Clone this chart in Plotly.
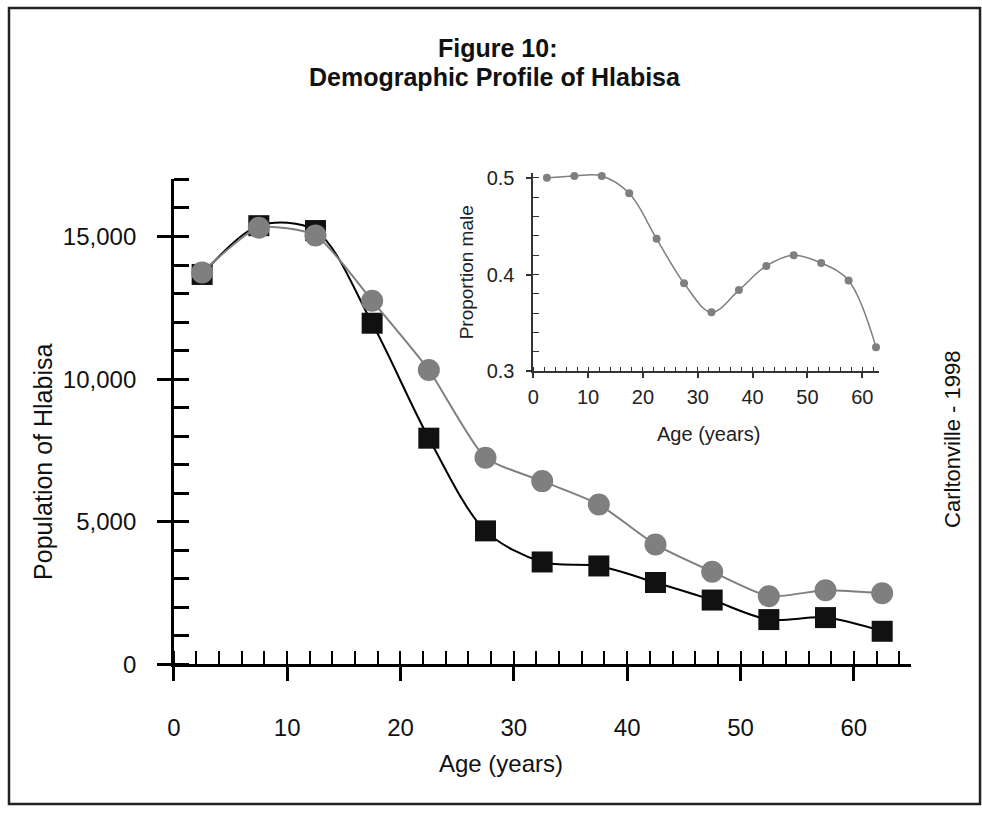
import plotly.graph_objects as go

# ---- data ----
age = [2.5, 7.5, 12.5, 17.5, 22.5, 27.5, 32.5, 37.5, 42.5, 47.5, 52.5, 57.5, 62.5]
males = [13670, 15380, 15210, 11960, 7930, 4680, 3590, 3450, 2870, 2255, 1570, 1640, 1160]
females = [13740, 15310, 15040, 12750, 10320, 7245, 6425, 5605, 4200, 3250, 2390, 2600, 2495]
prop_male = [0.500, 0.502, 0.502, 0.484, 0.437, 0.391, 0.361, 0.384, 0.409, 0.420, 0.412, 0.394, 0.325]

W, H = 982, 819
FONT = "Liberation Sans, Arial, sans-serif"
GRAY = "#7f7f7f"


def px(x):
    return x / W


def py(y):
    return 1 - y / H


fig = go.Figure()

fig.add_trace(go.Scatter(
    x=age, y=males, mode="lines+markers",
    line=dict(color="black", width=2, shape="spline", smoothing=0.9),
    marker=dict(symbol="square", size=21, color="#111111"),
    xaxis="x", yaxis="y", cliponaxis=False, showlegend=False,
))
fig.add_trace(go.Scatter(
    x=age, y=females, mode="lines+markers",
    line=dict(color=GRAY, width=2, shape="spline", smoothing=0.6),
    marker=dict(symbol="circle", size=22, color=GRAY),
    xaxis="x", yaxis="y", cliponaxis=False, showlegend=False,
))
fig.add_trace(go.Scatter(
    x=age, y=prop_male, mode="lines+markers",
    line=dict(color=GRAY, width=1.5, shape="spline", smoothing=1.0),
    marker=dict(symbol="circle", size=8, color=GRAY),
    xaxis="x2", yaxis="y2", cliponaxis=False, showlegend=False,
))

tickfont = dict(family=FONT, size=24, color="#111111")
inset_font = dict(family=FONT, size=20, color="#222222")

main_x = [0, 65]
main_y = [0, 17000]
ins_x = [0, 63]
ins_y = [0.3, 0.505]

common = dict(showgrid=False, zeroline=False, tickcolor="black")

fig.update_layout(
    width=W, height=H,
    margin=dict(l=0, r=0, t=0, b=0),
    paper_bgcolor="white", plot_bgcolor="rgba(0,0,0,0)",
    xaxis=dict(domain=[px(168), px(910)], range=main_x, anchor="y",
               showline=True, linecolor="black", linewidth=2.5,
               ticks="outside", ticklen=14, tickwidth=2.5, dtick=10, tick0=0,
               minor=dict(ticks="inside", ticklen=14, tickwidth=2, dtick=2, tick0=0, tickcolor="black"),
               tickfont=tickfont, ticklabelstandoff=26, **common),
    xaxis3=dict(overlaying="x", range=main_x, anchor="y", showline=False,
                ticks="inside", ticklen=14, tickwidth=2.5, dtick=10, tick0=0,
                showticklabels=False, **common),
    yaxis=dict(domain=[py(674), py(177.6)], range=main_y, anchor="x",
               showline=True, linecolor="black", linewidth=2.5,
               ticks="outside", ticklen=14, tickwidth=2.5, dtick=5000, tick0=0,
               minor=dict(ticks="inside", ticklen=15, tickwidth=2.5, dtick=1000, tick0=0, tickcolor="black"),
               tickformat=",", tickfont=tickfont, ticklabelstandoff=16, **common),
    yaxis3=dict(overlaying="y", range=main_y, anchor="x", showline=False,
                ticks="inside", ticklen=15, tickwidth=2.5, dtick=5000, tick0=0,
                showticklabels=False, **common),
    xaxis2=dict(domain=[px(530), px(878)], range=ins_x, anchor="y2",
                showline=True, linecolor="#333333", linewidth=1.5,
                ticks="outside", ticklen=5, tickwidth=1.5, dtick=10, tick0=0,
                minor=dict(ticks="inside", ticklen=5, tickwidth=1.2, dtick=2, tick0=0, tickcolor="#333333"),
                tickfont=inset_font, ticklabelstandoff=2, tickcolor="#333333",
                showgrid=False, zeroline=False),
    xaxis4=dict(overlaying="x2", range=ins_x, anchor="y2", showline=False,
                ticks="inside", ticklen=5, tickwidth=1.5, dtick=10, tick0=0,
                showticklabels=False, tickcolor="#333333", showgrid=False, zeroline=False),
    yaxis2=dict(domain=[py(374), py(171)], range=ins_y, anchor="x2",
                showline=True, linecolor="#333333", linewidth=1.5,
                ticks="outside", ticklen=5, tickwidth=1.5, dtick=0.1, tick0=0.3,
                minor=dict(ticks="inside", ticklen=6, tickwidth=1.2, dtick=0.02, tick0=0.3, tickcolor="#333333"),
                tickformat=".1f", tickfont=inset_font, ticklabelstandoff=8, tickcolor="#333333",
                showgrid=False, zeroline=False),
    yaxis4=dict(overlaying="y2", range=ins_y, anchor="x2", showline=False,
                ticks="inside", ticklen=5, tickwidth=1.5, dtick=0.1, tick0=0.3,
                showticklabels=False, tickcolor="#333333", showgrid=False, zeroline=False),
    shapes=[dict(type="rect", xref="paper", yref="paper",
                 x0=px(2), x1=px(980), y0=py(817), y1=py(2),
                 line=dict(color="#222222", width=2.5), fillcolor="rgba(0,0,0,0)")],
    annotations=[
        dict(text="<b>Figure 10:</b>", x=px(494), y=py(43), xref="paper", yref="paper",
             showarrow=False, font=dict(family=FONT, size=25, color="#111111"),
             xanchor="center", yanchor="middle"),
        dict(text="<b>Demographic Profile of Hlabisa</b>", x=px(492), y=py(73), xref="paper", yref="paper",
             showarrow=False, font=dict(family=FONT, size=25, color="#111111"),
             xanchor="center", yanchor="middle"),
        dict(text="Population of Hlabisa", x=px(36), y=py(467), xref="paper", yref="paper",
             showarrow=False, textangle=-90, font=dict(family=FONT, size=25, color="#111111"),
             xanchor="center", yanchor="middle"),
        dict(text="Age (years)", x=px(498), y=py(776), xref="paper", yref="paper",
             showarrow=False, font=dict(family=FONT, size=24, color="#111111"),
             xanchor="center", yanchor="middle"),
        dict(text="Carltonville - 1998", x=px(952), y=py(444), xref="paper", yref="paper",
             showarrow=False, textangle=-90, font=dict(family=FONT, size=22, color="#111111"),
             xanchor="center", yanchor="middle"),
        dict(text="Age (years)", x=px(707), y=py(438), xref="paper", yref="paper",
             showarrow=False, font=dict(family=FONT, size=20, color="#222222"),
             xanchor="center", yanchor="middle"),
        dict(text="Proportion male", x=px(463), y=py(273), xref="paper", yref="paper",
             showarrow=False, textangle=-90, font=dict(family=FONT, size=19, color="#222222"),
             xanchor="center", yanchor="middle"),
    ],
)

fig.write_html("out.html",
               post_script="document.body.style.margin='0';document.body.style.overflow='hidden';")
